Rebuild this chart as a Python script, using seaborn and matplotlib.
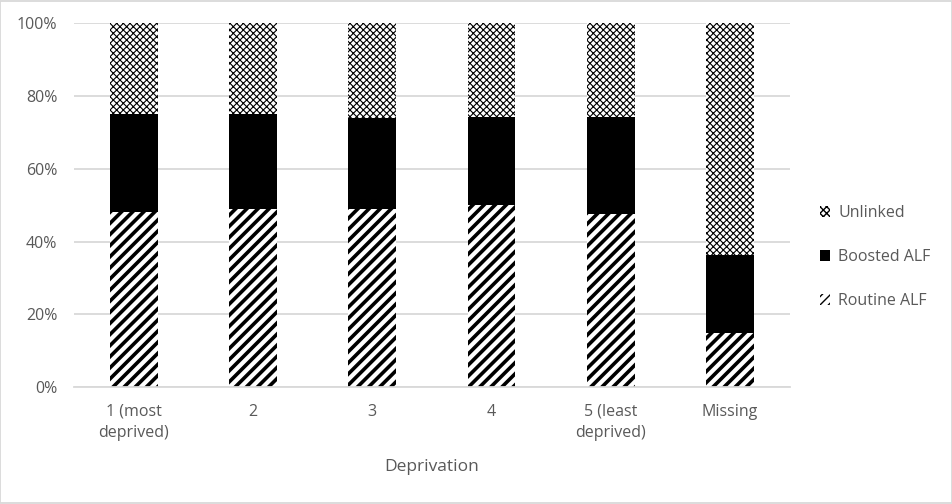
import numpy as np
import pandas as pd
import matplotlib
matplotlib.use("Agg")
import matplotlib.pyplot as plt
from matplotlib.patches import Patch
import seaborn as sns

# shares (%)
categories = ["1 (most\ndeprived)", "2", "3", "4", "5 (least\ndeprived)", "Missing"]
routine_alf = [48.1, 49.0, 49.0, 50.1, 47.6, 14.9]
boosted_alf = [26.9, 26.0, 24.9, 24.2, 26.7, 21.4]
unlinked = [100 - r - b for r, b in zip(routine_alf, boosted_alf)]

df = pd.DataFrame({"Deprivation": categories,
                   "Routine ALF": routine_alf,
                   "Boosted ALF": boosted_alf,
                   "Unlinked": unlinked})
# cumulative tops, drawn back to front
df["top_unlinked"] = df["Routine ALF"] + df["Boosted ALF"] + df["Unlinked"]
df["top_boosted"] = df["Routine ALF"] + df["Boosted ALF"]
df["top_routine"] = df["Routine ALF"]

sns.set_style("white")
plt.rcParams["font.family"] = ["Open Sans", "DejaVu Sans"]
grey_txt = "#595959"
grid_col = "#d9d9d9"

fig = plt.figure(figsize=(9.53, 5.04), dpi=100)
ax = fig.add_axes([0.0777, 0.232, 0.751, 0.722])

layers = [("top_unlinked", "white", "xxxxx", 0.8),
          ("top_boosted", "black", None, 1.0),
          ("top_routine", "white", "///", 2.6)]
for col, fc, hatch, hlw in layers:
    with plt.rc_context({"hatch.linewidth": hlw}):
        sns.barplot(data=df, x="Deprivation", y=col, ax=ax, width=0.4,
                    color=fc, saturation=1, linewidth=0)
        for p in ax.containers[-1]:
            p.set_facecolor(fc)
            p.set_edgecolor("black")
            p.set_linewidth(0)
            if hatch:
                p.set_hatch(hatch)

ax.set_ylim(0, 100)
ax.set_xlim(-0.5, len(categories) - 0.5)
ax.set_yticks(np.arange(0, 101, 20))
ax.set_yticklabels([f"{v}%" for v in range(0, 101, 20)])
ax.yaxis.grid(True, color=grid_col, linewidth=1.3)
ax.set_axisbelow(True)
for s in ["top", "right", "left"]:
    ax.spines[s].set_visible(False)
ax.spines["bottom"].set_color(grid_col)
ax.spines["bottom"].set_linewidth(1.3)
ax.tick_params(axis="both", length=0, colors=grey_txt, labelsize=11.5)
ax.tick_params(axis="y", pad=12)
ax.tick_params(axis="x", pad=12)
for t in ax.get_xticklabels():
    t.set_linespacing(1.45)
ax.set_ylabel("")
ax.set_xlabel("Deprivation", color=grey_txt, fontsize=12.5, labelpad=13)

handles = []
with plt.rc_context({"hatch.linewidth": 0.8}):
    handles.append(Patch(facecolor="white", edgecolor="black", hatch="xxxxx",
                         linewidth=0, label="Unlinked"))
handles.append(Patch(facecolor="black", edgecolor="black", linewidth=0,
                     label="Boosted ALF"))
with plt.rc_context({"hatch.linewidth": 2.0}):
    handles.append(Patch(facecolor="white", edgecolor="black", hatch="////",
                         linewidth=0, label="Routine ALF"))
leg = fig.legend(handles=handles, loc="center left", bbox_to_anchor=(0.845, 0.49),
                 frameon=False, fontsize=11.5, labelcolor=grey_txt,
                 handlelength=0.65, handleheight=0.65, handletextpad=0.5,
                 labelspacing=1.75)

fig.patches.append(plt.Rectangle((0.0005, 0.001), 0.998, 0.997, transform=fig.transFigure,
                                 fill=False, edgecolor=grid_col, linewidth=1.3))
fig.savefig("out.png", dpi=100)
